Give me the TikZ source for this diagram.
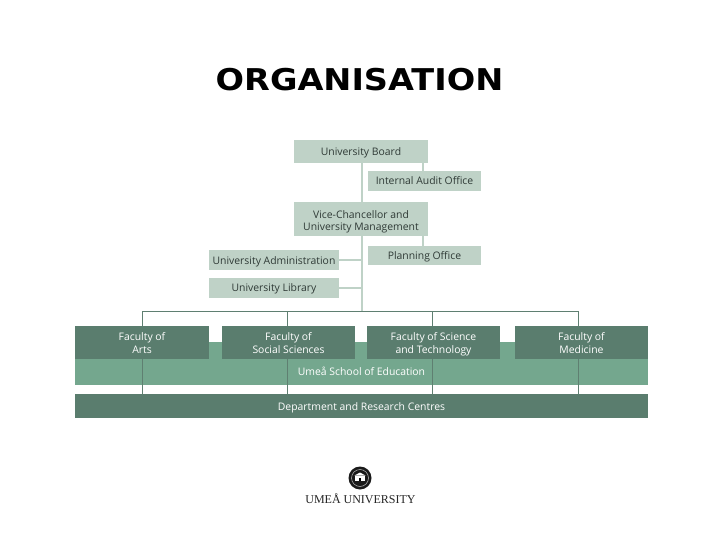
\documentclass[tikz,border=0pt]{standalone}
\usepackage{fontspec}
\setmainfont{Open Sans}
\newfontfamily\titlefont{DejaVu Sans}
\newfontfamily\logofont{Liberation Serif}
\definecolor{lightbox}{HTML}{BFD2C7}
\definecolor{darkbox}{HTML}{5A7D6E}
\definecolor{band}{HTML}{74A78E}
\definecolor{busline}{HTML}{5F7F71}
\definecolor{labeltext}{HTML}{2F3A36}
\newcommand{\dn}[2][1.5pt]{\raisebox{-#1}[8pt][3pt]{#2}}
\tikzset{
  x=1pt,y=-1pt,
  lightnode/.style={fill=lightbox,inner sep=0pt,align=center,text=labeltext,font=\fontsize{10.4}{12.3}\selectfont},
  darknode/.style={fill=darkbox,inner sep=0pt,align=center,text=white,font=\fontsize{10.4}{12.3}\selectfont},
  lighttrunk/.style={draw=lightbox,line width=1.3pt},
  darktrunk/.style={draw=busline,line width=1pt}
}
\begin{document}
\begin{tikzpicture}
\useasboundingbox (0,0) rectangle (720,540);
\fill[white] (0,0) rectangle (720,540);
\node[inner sep=0pt,font=\titlefont\bfseries\fontsize{30}{30}\selectfont] (title) at (359.5,80) {\scalebox{1.117}[1]{ORGANISATION}};
% light boxes
\node[lightnode,minimum width=134pt,minimum height=23pt] (board) at (361,151.5) {\dn[1.8pt]{University Board}};
\node[lightnode,minimum width=113pt,minimum height=20pt] (audit) at (424.5,181) {\dn[1.2pt]{Internal Audit Office}};
\node[lightnode,minimum width=134pt,minimum height=34pt] (vc) at (361,219) {\dn[2.7pt]{Vice-Chancellor and}\\\dn[2.7pt]{University Management}};
\node[lightnode,minimum width=113pt,minimum height=19pt] (plan) at (424.5,255.5) {\dn[1.3pt]{Planning Office}};
\node[lightnode,minimum width=130pt,minimum height=20pt] (admin) at (274,260) {\dn[1.5pt]{University Administration}};
\node[lightnode,minimum width=130pt,minimum height=20pt] (lib) at (274,288) {\dn[1.5pt]{University Library}};
% bands
\node[fill=band,inner sep=0pt,minimum width=573pt,minimum height=43pt] (school) at (361.5,363.5) {};
\node[inner sep=0pt,text=white,font=\fontsize{10.4}{12}\selectfont] (schooltext) at (361.5,371.5) {Umeå School of Education};
\node[darknode,minimum width=573pt,minimum height=24pt] (dept) at (361.5,406) {\dn[1.5pt]{Department and Research Centres}};
% connectors
\coordinate (trunkend) at (362,311);
\coordinate (busA) at (142,311);
\coordinate (busB) at (287,311);
\coordinate (busC) at (432,311);
\coordinate (busD) at (578,311);
\coordinate (stubA) at (423,163);
\coordinate (stubB) at (423,236);
\draw[lighttrunk] (board.south -| trunkend) -- (vc.north -| trunkend);
\draw[lighttrunk] (vc.south -| trunkend) -- (trunkend);
\draw[lighttrunk] (stubA) -- (stubA |- audit.north);
\draw[lighttrunk] (stubB) -- (stubB |- plan.north);
\draw[lighttrunk] (admin.east) -- (admin.east -| trunkend);
\draw[lighttrunk] (lib.east) -- (lib.east -| trunkend);
\draw[darktrunk] (busA) -- (busD);
\foreach \t in {busA,busB,busC,busD}
  \draw[darktrunk] (\t) -- (\t |- dept.north);
% faculties
\node[darknode,minimum width=134pt,minimum height=33pt] (arts) at (142,342.5) {\dn[2pt]{Faculty of}\\\dn[2pt]{Arts}};
\node[darknode,minimum width=133pt,minimum height=33pt] (social) at (288.5,342.5) {\dn[2pt]{Faculty of}\\\dn[2pt]{Social Sciences}};
\node[darknode,minimum width=133pt,minimum height=33pt] (science) at (433.5,342.5) {\dn[2pt]{Faculty of Science}\\\dn[2pt]{and Technology}};
\node[darknode,minimum width=133pt,minimum height=33pt] (medicine) at (581.5,342.5) {\dn[2pt]{Faculty of}\\\dn[2pt]{Medicine}};
% logo
\fill[black!90] (360,478) circle (11.5);
\draw[white,line width=0.5pt,opacity=0.7] (360,478) circle (8.5);
\fill[white] (355,480.5) rectangle (365,475.5);
\fill[white] (354.5,475.5) -- (360,472.5) -- (365.5,475.5) -- cycle;
\fill[black] (358.8,481) rectangle (361.2,477.5);
\node[inner sep=0pt,font=\logofont\fontsize{12}{12}\selectfont,text=black!85] (logotext) at (360.5,498.5) {UMEÅ UNIVERSITY};
\end{tikzpicture}
\end{document}
